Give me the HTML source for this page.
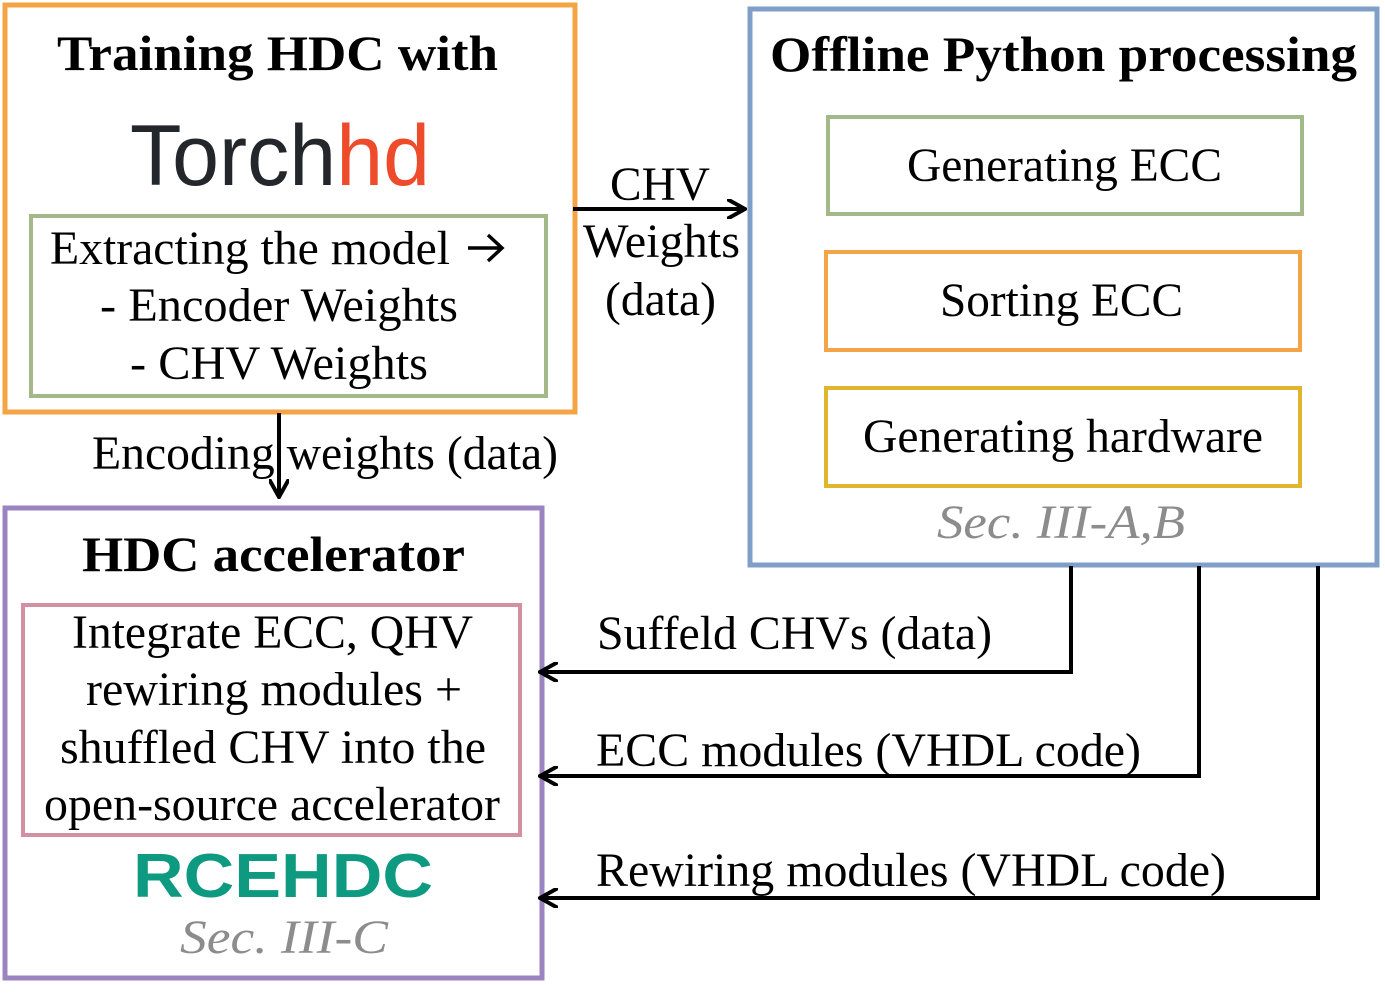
<!DOCTYPE html>
<html><head><meta charset="utf-8"><style>
html,body{margin:0;padding:0;background:#fff}
svg{display:block}
text{font-family:"Liberation Serif",serif}
</style></head><body>
<svg width="1385" height="993" viewBox="0 0 1385 993" xmlns="http://www.w3.org/2000/svg">
<defs>
<marker id="a" viewBox="0 0 10 10" refX="8" refY="5" markerWidth="5" markerHeight="5" orient="auto"><path d="M0,0 L9,5 L0,10" fill="none" stroke="#000" stroke-width="2"/></marker>
</defs>
<g fill="none" stroke-width="5">
<rect x="5" y="5" width="570" height="407" stroke="#F4A445"/>
<rect x="31" y="216" width="515" height="180" stroke="#A3B98A" stroke-width="4"/>
<rect x="750" y="9" width="627" height="556" stroke="#7F9FC8"/>
<rect x="828" y="117" width="474" height="97" stroke="#A3B98A" stroke-width="4"/>
<rect x="826" y="252" width="474" height="98" stroke="#F4A445" stroke-width="4"/>
<rect x="826" y="388" width="474" height="98" stroke="#E2B52E" stroke-width="4"/>
<rect x="5" y="508" width="537" height="470" stroke="#9C84C2"/>
<rect x="23" y="605" width="497" height="230" stroke="#D291A0" stroke-width="4"/>
</g>
<g fill="none" stroke="#000" stroke-width="4">
<path d="M573 209 H743" marker-end="url(#a)"/>
<path d="M279 413 V495" marker-end="url(#a)"/>
<path d="M1071 566 V672 H542" marker-end="url(#a)"/>
<path d="M1199 566 V776 H542" marker-end="url(#a)"/>
<path d="M1318 566 V898 H542" marker-end="url(#a)"/>
<path d="M468 248 H500 M488 235 L502 248 L488 261" stroke-width="3.5"/>
</g>
<g font-size="48" fill="#000" lengthAdjust="spacingAndGlyphs">
<text x="57" y="70" font-weight="bold" font-size="50" textLength="441" lengthAdjust="spacingAndGlyphs">Training HDC with</text>
<text x="770" y="71" font-weight="bold" font-size="50" textLength="587" lengthAdjust="spacingAndGlyphs">Offline Python processing</text>
<text x="130" y="185" font-size="86" textLength="300" lengthAdjust="spacingAndGlyphs" fill="#23272b" style="font-family:'Liberation Sans',sans-serif">Torch<tspan fill="#EE4B2B">hd</tspan></text>
<text x="50" y="264" textLength="400" lengthAdjust="spacingAndGlyphs">Extracting the model</text>
<text x="100" y="321" textLength="358" lengthAdjust="spacingAndGlyphs">- Encoder Weights</text>
<text x="130" y="379" textLength="298" lengthAdjust="spacingAndGlyphs">- CHV Weights</text>
<text x="610" y="200" textLength="100" lengthAdjust="spacingAndGlyphs">CHV</text>
<text x="583" y="257" textLength="157" lengthAdjust="spacingAndGlyphs">Weights</text>
<text x="605" y="315" textLength="111" lengthAdjust="spacingAndGlyphs">(data)</text>
<text x="907" y="181" textLength="315" lengthAdjust="spacingAndGlyphs">Generating ECC</text>
<text x="940" y="316" textLength="243" lengthAdjust="spacingAndGlyphs">Sorting ECC</text>
<text x="863" y="452" textLength="400" lengthAdjust="spacingAndGlyphs">Generating hardware</text>
<text x="937" y="538" font-style="italic" fill="#8c8c8c" textLength="248" lengthAdjust="spacingAndGlyphs">Sec. III-A,B</text>
<text x="92" y="469" textLength="466" lengthAdjust="spacingAndGlyphs">Encoding weights (data)</text>
<text x="82" y="571" font-weight="bold" font-size="50" textLength="383" lengthAdjust="spacingAndGlyphs">HDC accelerator</text>
<text x="72" y="648" textLength="401" lengthAdjust="spacingAndGlyphs">Integrate ECC, QHV</text>
<text x="86" y="705" textLength="376" lengthAdjust="spacingAndGlyphs">rewiring modules +</text>
<text x="60" y="763" textLength="426" lengthAdjust="spacingAndGlyphs">shuffled CHV into the</text>
<text x="44" y="820" textLength="456" lengthAdjust="spacingAndGlyphs">open-source accelerator</text>
<text x="133" y="897" font-weight="bold" font-size="62" textLength="300" lengthAdjust="spacingAndGlyphs" fill="#0E9A80" style="font-family:'Liberation Sans',sans-serif">RCEHDC</text>
<text x="180" y="953" font-style="italic" fill="#8c8c8c" textLength="208" lengthAdjust="spacingAndGlyphs">Sec. III-C</text>
<text x="597" y="649" textLength="395" lengthAdjust="spacingAndGlyphs">Suffeld CHVs (data)</text>
<text x="596" y="766" textLength="545" lengthAdjust="spacingAndGlyphs">ECC modules (VHDL code)</text>
<text x="596" y="886" textLength="630" lengthAdjust="spacingAndGlyphs">Rewiring modules (VHDL code)</text>
</g>
</svg>
</body></html>
